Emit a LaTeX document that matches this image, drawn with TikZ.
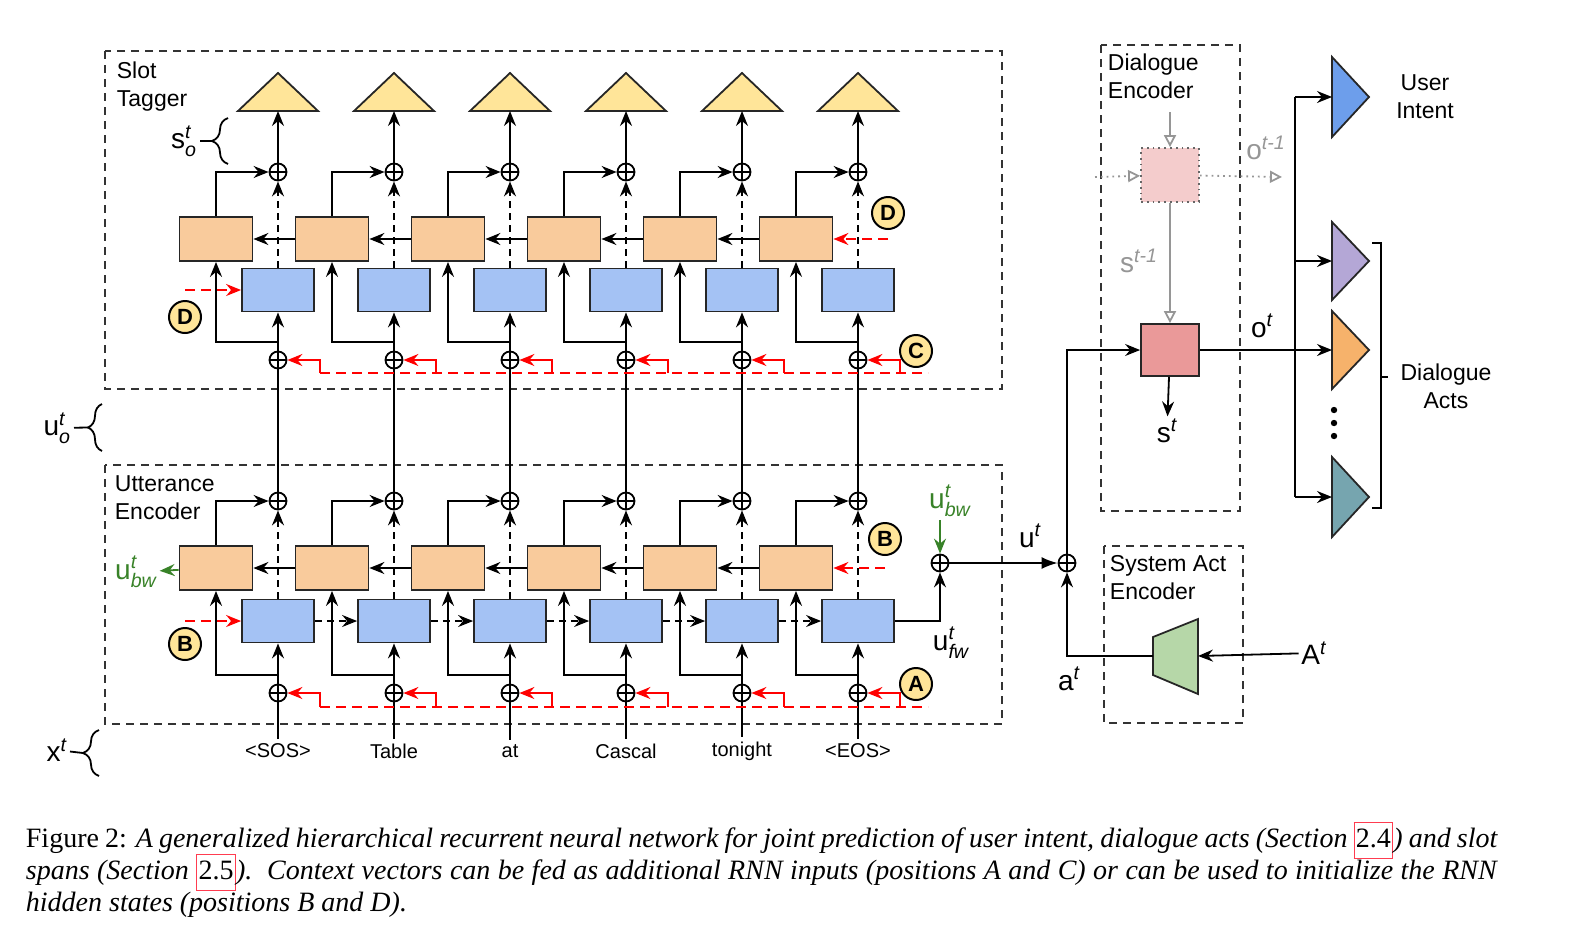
\documentclass[tikz,border=0pt]{standalone}
\usepackage{amsmath}
\usepackage{fontspec}
\setmainfont{Liberation Serif}
\setsansfont{Liberation Sans}
\usetikzlibrary{arrows.meta,decorations.pathreplacing}

\definecolor{boxorange}{HTML}{F9CB9C}
\definecolor{boxblue}{HTML}{A4C2F4}
\definecolor{triyellow}{HTML}{FFE599}
\definecolor{ghostpink}{HTML}{F4CCCC}
\definecolor{statered}{HTML}{EA9999}
\definecolor{actgreen}{HTML}{B6D7A8}
\definecolor{intentblue}{HTML}{6D9EEB}
\definecolor{actpurple}{HTML}{B4A7D6}
\definecolor{actorange}{HTML}{F6B26B}
\definecolor{actteal}{HTML}{76A5AF}
\definecolor{bwgreen}{RGB}{56,130,40}
\definecolor{ghostgrey}{RGB}{150,150,150}
\definecolor{linkred}{RGB}{255,60,80}

\newcommand\seclink[1]{{\fboxsep=0.6pt\fboxrule=0.6pt\fcolorbox{linkred}{white}{\upshape\strut#1}}}

\tikzset{
  frame/.style={draw=black!80, line width=0.8pt, dash pattern=on 4pt off 3pt},
  title/.style={anchor=west, align=left, inner sep=0pt, font=\sffamily\fontsize{11.5}{14}\selectfont},
  lbl/.style={inner sep=1pt, font=\sffamily\fontsize{14}{15}\selectfont},
  word/.style={inner sep=2pt, font=\sffamily\fontsize{10}{12}\selectfont},
  plus/.style={circle, draw, line width=0.9pt, minimum size=8.5pt, inner sep=0pt,
    path picture={\draw[line width=0.8pt] (path picture bounding box.north) -- (path picture bounding box.south)
      (path picture bounding box.west) -- (path picture bounding box.east);}},
  obox/.style={draw=black!85, fill=boxorange, minimum width=36.5pt, minimum height=22pt, inner sep=0pt},
  bbox/.style={draw=black!85, fill=boxblue, minimum width=36pt, minimum height=21.5pt, inner sep=0pt},
  slottri/.style={draw=black!85, fill=triyellow},
  ctx/.style={circle, draw, line width=1pt, fill=triyellow, minimum size=16pt, inner sep=0pt,
    font=\sffamily\bfseries\fontsize{11}{11}\selectfont},
  ctxline/.style={draw=red, line width=0.9pt},
  ctxdash/.style={dash pattern=on 5pt off 3pt},
  fwdash/.style={dash pattern=on 3.5pt off 2.5pt},
  bwline/.style={draw=bwgreen, line width=0.9pt},
  ghostline/.style={draw=ghostgrey, line width=0.9pt},
  opentip/.style={-{Triangle[open,length=6pt,width=6pt]}},
  ghostbox/.style={draw=black!60, dotted, line width=0.9pt, fill=ghostpink, minimum width=29pt, minimum height=27pt, inner sep=0pt},
  statebox/.style={draw=black!85, fill=statered, minimum width=29pt, minimum height=26pt, inner sep=0pt},
  caption/.style={anchor=base west, inner sep=0pt, font=\rmfamily\fontsize{14}{16}\selectfont}
}

\begin{document}
\begin{tikzpicture}[x=0.5pt, y=-0.5pt, line width=0.9pt, >={Stealth[length=7.5pt,width=6pt,inset=2.5pt]}]
\useasboundingbox (0,0) rectangle (1578,938);

% frames
\draw[frame] (105,51) rectangle (1002,389);
\draw[frame] (105,465) rectangle (1002,724);
\draw[frame] (1101,45) rectangle (1240,511);
\draw[frame] (1104,546) rectangle (1243,723);
\node[title] (stt) at (116,87) {Slot\\Tagger};
\node[title] (uet) at (114,498) {Utterance\\Encoder};
\node[title] (det) at (1107,76) {Dialogue\\Encoder};
\node[title] (sat) at (1109,578) {System Act\\Encoder};

% columns
\foreach \i/\w in {0/{<SOS>},1/Table,2/at,3/Cascal,4/tonight,5/{<EOS>}} {
  \pgfmathsetmacro\cx{278+116*\i}
  % slot tagger
  \filldraw[slottri] (\cx-40,111) -- (\cx,73) -- (\cx+40,111) -- cycle;
  \coordinate (tb\i) at (\cx,111);
  \node[plus] (sp\i) at (\cx,172) {};
  \node[obox] (so\i) at (\cx-62,239) {};
  \node[bbox] (sb\i) at (\cx,290) {};
  \node[plus] (sq\i) at (\cx,360) {};
  \coordinate (sr\i) at (\cx+42,373);
  \draw[->] (sp\i) -- (tb\i);
  \draw[->] (so\i) |- (sp\i);
  \draw[->,fwdash] (sb\i) -- (sp\i);
  \draw[->] (sq\i) -- (sb\i);
  \draw[->] (sq\i) ++(0,-18) -| (so\i);
  \draw[ctxline,->] (sr\i) |- (sq\i);
  % utterance encoder
  \node[plus] (up\i) at (\cx,501) {};
  \node[obox] (uo\i) at (\cx-62,568) {};
  \node[bbox] (ub\i) at (\cx,621) {};
  \node[plus] (uq\i) at (\cx,693) {};
  \coordinate (ur\i) at (\cx+42,707);
  \node[word] (w\i) at (\cx,751) {\w};
  \draw[->] (uo\i) |- (up\i);
  \draw[->,fwdash] (ub\i) -- (up\i);
  \draw[->] (uq\i) -- (ub\i);
  \draw[->] (uq\i) ++(0,-18) -| (uo\i);
  \draw[ctxline,->] (ur\i) |- (uq\i);
  \draw (w\i) -- (uq\i);
  \draw (up\i) -- (sq\i);
}
\foreach \i/\j in {0/1,1/2,2/3,3/4,4/5} {
  \draw[->] (so\j) -- (so\i);
  \draw[->] (uo\j) -- (uo\i);
  \draw[->,fwdash] (ub\i) -- (ub\j);
}

% context inputs
\coordinate (sre) at (928,373);
\coordinate (ure) at (928,707);
\draw[ctxline,ctxdash] (sr0) -- (sre);
\draw[ctxline,ctxdash] (ur0) -- (ure);
\node[ctx] (cD1) at (888,213) {D};
\node[ctx] (cD2) at (185,317) {D};
\node[ctx] (cC) at (916,351) {C};
\node[ctx] (cB1) at (885,539) {B};
\node[ctx] (cB2) at (185,644) {B};
\node[ctx] (cA) at (916,684) {A};
\draw[ctxline,ctxdash,->] (cD1 |- so5) -- (so5);
\draw[ctxline,ctxdash,->] (cD2 |- sb0) -- (sb0);
\draw[ctxline,ctxdash,->] (cB1 |- uo5) -- (uo5);
\draw[ctxline,ctxdash,->] (cB2 |- ub0) -- (ub0);

% braces
\draw[decorate,decoration={brace,amplitude=8pt}] (228,164) -- (228,118);
\coordinate (sotip) at (212,141);
\node[lbl,anchor=east] (sol) at (200,141) {s$^{\textit{t}}_{\textit{o}}$};
\draw (sotip) -- (sol);
\draw[decorate,decoration={brace,amplitude=7pt}] (102,451) -- (102,404);
\coordinate (uotip) at (88,427.5);
\node[lbl,anchor=east] (uol) at (74,428) {u$^{\textit{t}}_{\textit{o}}$};
\draw (uotip) -- (uol);
\draw[decorate,decoration={brace,amplitude=8pt}] (99,776) -- (99,730);
\coordinate (xtip) at (83,753);
\node[lbl,anchor=east] (xl) at (70,750) {x$^{\textit{t}}$};
\draw (xtip) -- (xl);

% utterance output
\node[lbl,text=bwgreen] (ubw1) at (136,572) {u$^{\textit{t}}_{\textit{bw}}$};
\draw[bwline,->] (uo0) -- (ubw1);
\node[plus] (uf) at (940,563) {};
\node[plus] (ua) at (1067,563) {};
\node[lbl,text=bwgreen] (ubw2) at (950,501) {u$^{\textit{t}}_{\textit{bw}}$};
\draw[bwline,->] (ubw2.south -| uf) -- (uf);
\node[lbl] (ufw) at (951,643) {u$^{\textit{t}}_{\textit{fw}}$};
\draw[->] (ub5) -| (uf);
\node[lbl] (ut) at (1030,536) {u$^{\textit{t}}$};
\draw[-{Latex[length=8pt,width=6pt]}] (uf) -- (ua);

% system act encoder
\filldraw[draw=black!85, fill=actgreen] (1153,637) -- (1198,619) -- (1198,694) -- (1153,675) -- cycle;
\coordinate (sain) at (1198,656);
\coordinate (saout) at (1153,656);
\node[lbl] (At) at (1314,653) {A$^{\textit{t}}$};
\draw[->] (At) -- (sain);
\draw[->] (saout) -| (ua);
\node[lbl] (atl) at (1069,679) {a$^{\textit{t}}$};

% dialogue encoder
\node[ghostbox] (dp) at (1170,175) {};
\node[statebox] (dr) at (1170,350) {};
\coordinate (dtop) at (1170,112);
\coordinate (din) at (1095,177);
\coordinate (dout) at (1282,177);
\draw[ghostline,opentip] (dtop) -- (dp);
\draw[ghostline,opentip,dotted] (din) -- (dp);
\draw[ghostline,opentip,dotted] (dp) -- (dout);
\draw[ghostline,opentip] (dp) -- (dr);
\node[lbl,text=ghostgrey] (olbl) at (1266,148) {o$^{\textit{t-1}}$};
\node[lbl,text=ghostgrey] (slbl) at (1139,261) {s$^{\textit{t-1}}$};
\node[lbl] (stl) at (1167,431) {s$^{\textit{t}}$};
\draw[->] (dr) -- (stl);
\draw[->] (ua) |- (dr);
\node[lbl] (otl) at (1262,326) {o$^{\textit{t}}$};

% outputs
\filldraw[draw=black!85, fill=intentblue] (1332,57) -- (1369,97) -- (1332,137) -- cycle;
\filldraw[draw=black!85, fill=actpurple] (1332,222) -- (1369,261) -- (1332,300) -- cycle;
\filldraw[draw=black!85, fill=actorange] (1332,311) -- (1369,350) -- (1332,389) -- cycle;
\filldraw[draw=black!85, fill=actteal] (1332,457) -- (1369,497) -- (1332,537) -- cycle;
\coordinate (tu) at (1332,97);
\coordinate (tp) at (1332,261);
\coordinate (to) at (1332,350);
\coordinate (tt) at (1332,497);
\coordinate (bt) at (1295,97);
\coordinate (bb) at (1295,497);
\draw (bt) -- (bb);
\draw[->] (bt) -- (tu);
\draw[->] (bt |- tp) -- (tp);
\draw[->] (dr) -- (to);
\draw[->] (bb) -- (tt);
\foreach \y in {410,423,436} \fill (1334,\y) circle (1.6pt);
\draw (1372,243) -- (1381,243) -- (1381,508) -- (1372,508) (1381,377) -- (1388,377);
\node[title,anchor=center,align=center] (ui) at (1425,97) {User\\Intent};
\node[title,anchor=center,align=center] (da) at (1446,386) {Dialogue\\Acts};

% caption
\node[caption] (cap1) at (25,847) {\makebox[736pt][s]{Figure 2: \textit{A generalized hierarchical recurrent neural network for joint prediction of user intent, dialogue acts (Section \seclink{2.4}) and slot}}};
\node[caption] (cap2) at (25,879) {\makebox[736pt][s]{\textit{spans (Section \seclink{2.5}).\ \ Context vectors can be fed as additional RNN inputs (positions \textit{A} and \textit{C}) or can be used to initialize the RNN}}};
\node[caption] (cap3) at (25,911) {\textit{hidden states (positions B and D).}};
\end{tikzpicture}
\end{document}
